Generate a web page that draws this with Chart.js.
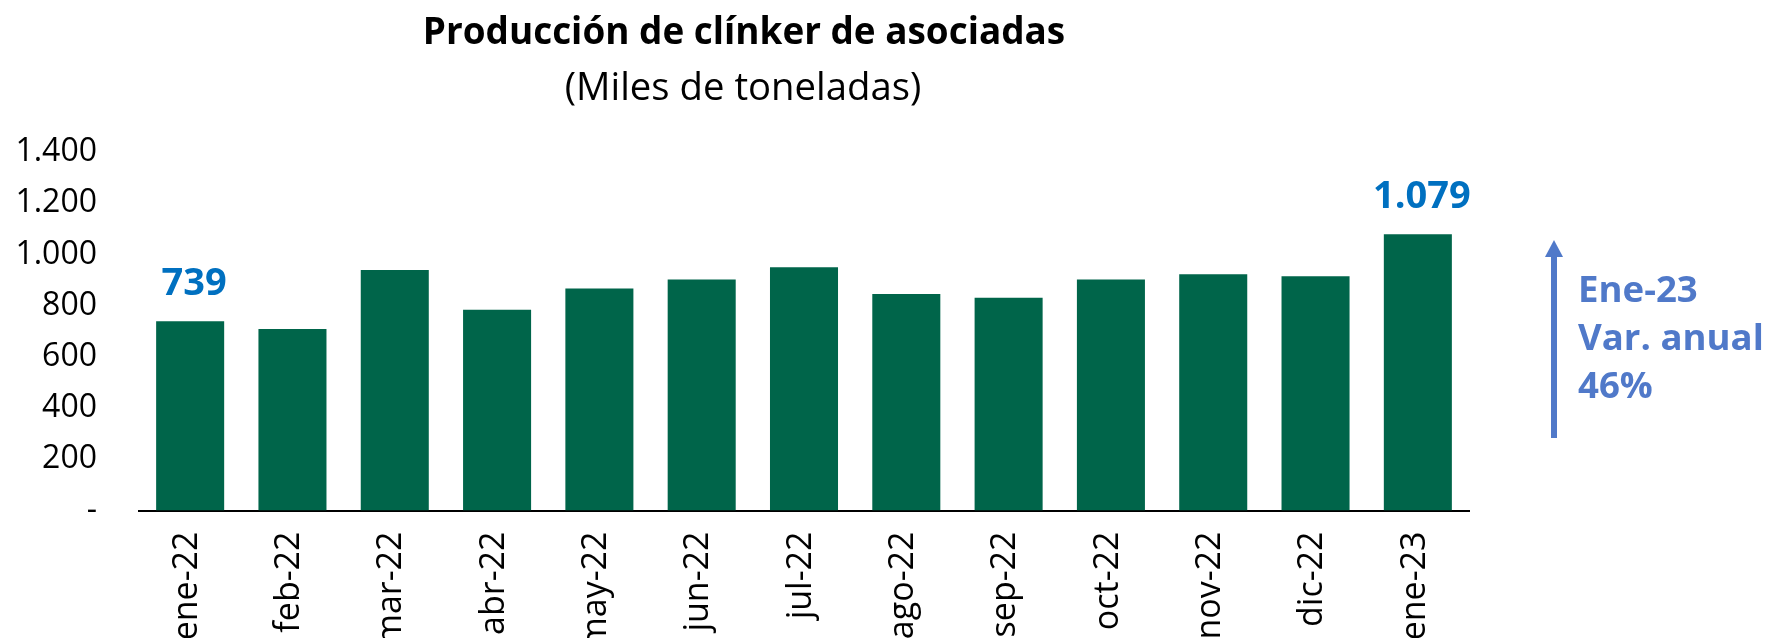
<!DOCTYPE html>
<html><head><meta charset="utf-8">
<script src="https://cdn.jsdelivr.net/npm/chart.js@4/dist/chart.umd.min.js"></script>
<style>html,body{margin:0;padding:0;background:#fff;overflow:hidden}#wrap{width:1772px;height:638px;position:relative}</style>
</head><body><div id="wrap"><canvas id="c" width="1772" height="638"></canvas></div>
<script>
const categories = ['ene-22','feb-22','mar-22','abr-22','may-22','jun-22','jul-22','ago-22','sep-22','oct-22','nov-22','dic-22','ene-23'];
const production = [739, 709, 939, 784, 867, 902, 950, 845, 831, 902, 923, 915, 1079];
const labeledIdx = [0, 12];
const yTicks = [0, 200, 400, 600, 800, 1000, 1200, 1400];
const titleText = 'Producción de clínker de asociadas';
const subtitleText = '(Miles de toneladas)';
const noteLines = ['Ene-23', 'Var. anual', '46%'];

const FONT = '"Open Sans", Lato, sans-serif';
const fmt = v => v === 0 ? '-' : v.toLocaleString('de-DE');

function fitFont(ctx, weight, text, targetW, base) {
  ctx.font = weight + ' ' + base + 'px ' + FONT;
  const w = ctx.measureText(text).width;
  const size = base * targetW / w;
  return weight + ' ' + size.toFixed(1) + 'px ' + FONT;
}

const overlay = {
  id: 'overlay',
  afterDraw(chart) {
    const ctx = chart.ctx;
    ctx.save();
    ctx.fillStyle = '#000';
    ctx.textAlign = 'center';
    ctx.textBaseline = 'alphabetic';
    ctx.font = fitFont(ctx, 'bold', titleText, 643, 32);
    ctx.fillText(titleText, 744, 44);
    ctx.font = fitFont(ctx, 'normal', subtitleText, 357, 32);
    ctx.fillText(subtitleText, 743, 100);
    // data labels
    const meta = chart.getDatasetMeta(0);
    ctx.fillStyle = '#0070C0';
    ctx.font = 'bold 38px ' + FONT;
    labeledIdx.forEach(i => {
      const el = meta.data[i];
      ctx.fillText(fmt(production[i]), el.x + 4, el.y - 26);
    });
    // arrow
    const ax = 1554;
    ctx.strokeStyle = '#5079C9';
    ctx.fillStyle = '#5079C9';
    ctx.lineWidth = 6;
    ctx.beginPath();
    ctx.moveTo(ax, 438);
    ctx.lineTo(ax, 252);
    ctx.stroke();
    ctx.beginPath();
    ctx.moveTo(ax, 240);
    ctx.lineTo(ax - 9, 257);
    ctx.lineTo(ax + 9, 257);
    ctx.closePath();
    ctx.fill();
    // note text
    ctx.textAlign = 'left';
    ctx.font = fitFont(ctx, 'bold', 'Var. anual', 186, 36);
    noteLines.forEach((t, k) => ctx.fillText(t, 1578, 302 + k * 48));
    ctx.restore();
  }
};

new Chart(document.getElementById('c'), {
  type: 'bar',
  data: {
    labels: categories,
    datasets: [{
      data: production,
      backgroundColor: '#00654A',
      borderWidth: 0,
      categoryPercentage: 1,
      barPercentage: 0.665
    }]
  },
  options: {
    responsive: false,
    animation: false,
    devicePixelRatio: 1,
    layout: { padding: { top: 152, right: 303, left: 0, bottom: 0 } },
    plugins: { legend: { display: false }, tooltip: { enabled: false }, title: { display: false } },
    scales: {
      x: {
        grid: { display: false, drawTicks: false },
        border: { display: true, color: '#000', width: 2 },
        ticks: {
          color: '#000', font: { family: FONT, size: 34 },
          minRotation: 90, maxRotation: 90, autoSkip: false, padding: 21, labelOffset: -3
        },
        afterFit(s) { s.height = 127.5; }
      },
      y: {
        min: 0, max: 1400,
        grid: { display: false, drawTicks: false },
        border: { display: false },
        afterBuildTicks(s) { s.ticks = yTicks.map(v => ({ value: v })); },
        ticks: {
          color: '#000', font: { family: FONT, size: 32 }, padding: 42,
          callback: v => fmt(v)
        },
        afterFit(s) { s.width = 139; }
      }
    }
  },
  plugins: [overlay]
});
</script></body></html>
